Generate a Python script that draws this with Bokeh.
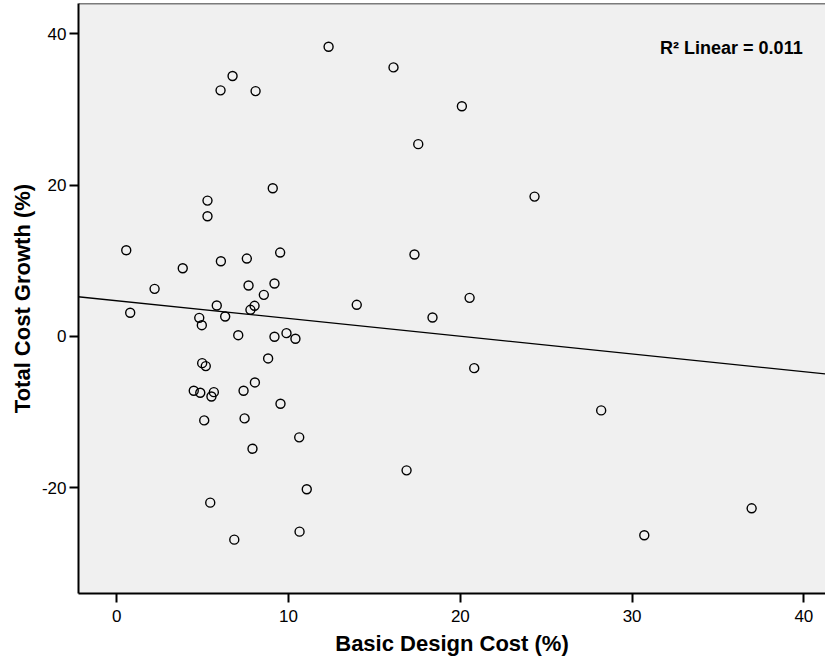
import numpy as np
from bokeh.plotting import figure
from bokeh.models import Range1d, FixedTicker, Slope, Label, Span, PrintfTickFormatter
from bokeh.embed import file_html
from bokeh.resources import INLINE

# Basic Design Cost (%) vs Total Cost Growth (%)
basic_design_cost = [12.33, 16.11, 6.74, 6.04, 8.08, 20.09, 17.55, 24.32, 9.08, 5.28,
                     5.28, 0.55, 9.51, 7.57, 6.06, 3.84, 17.33, 7.67, 9.18, 2.20,
                     8.56, 20.54, 13.97, 18.38, 20.81, 16.87, 0.78, 5.82, 4.80, 4.95,
                     6.31, 8.02, 7.78, 7.07, 9.18, 9.88, 10.40, 8.81, 4.97, 5.18,
                     4.48, 4.86, 5.65, 5.51, 8.04, 7.38, 9.53, 5.09, 7.44, 10.62,
                     7.90, 11.06, 5.44, 10.64, 6.84, 28.20, 36.96, 30.71]
total_cost_growth = [38.26, 35.53, 34.4, 32.5, 32.4, 30.4, 25.4, 18.47, 19.57, 17.94,
                     15.87, 11.39, 11.08, 10.29, 9.93, 9.01, 10.82, 6.73, 6.99, 6.29,
                     5.5, 5.1, 4.18, 2.5, -4.18, -17.68, 3.13, 4.09, 2.46, 1.49,
                     2.64, 4.05, 3.52, 0.17, -0.04, 0.44, -0.3, -2.9, -3.52, -3.91,
                     -7.17, -7.43, -7.35, -7.92, -6.07, -7.17, -8.88, -11.08, -10.82, -13.32,
                     -14.82, -20.18, -21.94, -25.77, -26.83, -9.76, -22.69, -26.25]
x_ticks = [0, 10, 20, 30, 40]
y_ticks = [-20, 0, 20, 40]
r2_text = "R\u00b2 Linear = 0.011"

FONT = "Liberation Sans"
X_MIN, X_MAX = -2.23, 41.26
Y_MIN, Y_MAX = -33.94, 43.97

p = figure(width=825, height=661, output_backend="svg", toolbar_location=None,
           x_range=Range1d(X_MIN, X_MAX), y_range=Range1d(Y_MIN, Y_MAX),
           min_border_left=78, min_border_right=0, min_border_top=3, min_border_bottom=68,
           background_fill_color="#F0F0F0", border_fill_color="white")
p.outline_line_color = None
p.xgrid.visible = False
p.ygrid.visible = False

for ax, ticks in ((p.xaxis, x_ticks), (p.yaxis, y_ticks)):
    ax.ticker = FixedTicker(ticks=ticks)
    ax.formatter = PrintfTickFormatter(format="%d")
    ax.minor_tick_line_color = None
    ax.major_tick_in = 0
    ax.major_tick_out = 9
    ax.major_tick_line_width = 2
    ax.axis_line_width = 2
    ax.axis_line_color = "black"
    ax.major_tick_line_color = "black"
    ax.major_label_text_font = FONT
    ax.major_label_text_font_size = "17px"
    ax.major_label_text_color = "black"
    ax.axis_label_text_font = FONT
    ax.axis_label_text_font_size = "22px"
    ax.axis_label_text_font_style = "bold"
    ax.axis_label_text_color = "black"

p.xaxis.axis_label = "Basic Design Cost (%)"
p.yaxis.axis_label = "Total Cost Growth (%)"
p.xaxis.major_label_standoff = 7
p.yaxis.major_label_standoff = 3
p.xaxis.axis_label_standoff = 6
p.yaxis.axis_label_standoff = 4

# top border of the plot area
p.add_layout(Span(location=Y_MAX, dimension="width", line_color="black", line_width=1.5))

slope, intercept = np.polyfit(np.array(basic_design_cost), np.array(total_cost_growth), 1)
p.add_layout(Slope(gradient=float(slope), y_intercept=float(intercept),
                   line_color="black", line_width=1.3))

p.scatter(basic_design_cost, total_cost_growth, size=9, fill_color=None,
          line_color="black", line_width=1.4)

p.add_layout(Label(x=39.93, y=38.03, text=r2_text, text_align="right",
                   text_baseline="middle", text_font=FONT, text_font_size="18px",
                   text_font_style="bold", text_color="black"))

open("out.html", "w").write(file_html(p, INLINE))
